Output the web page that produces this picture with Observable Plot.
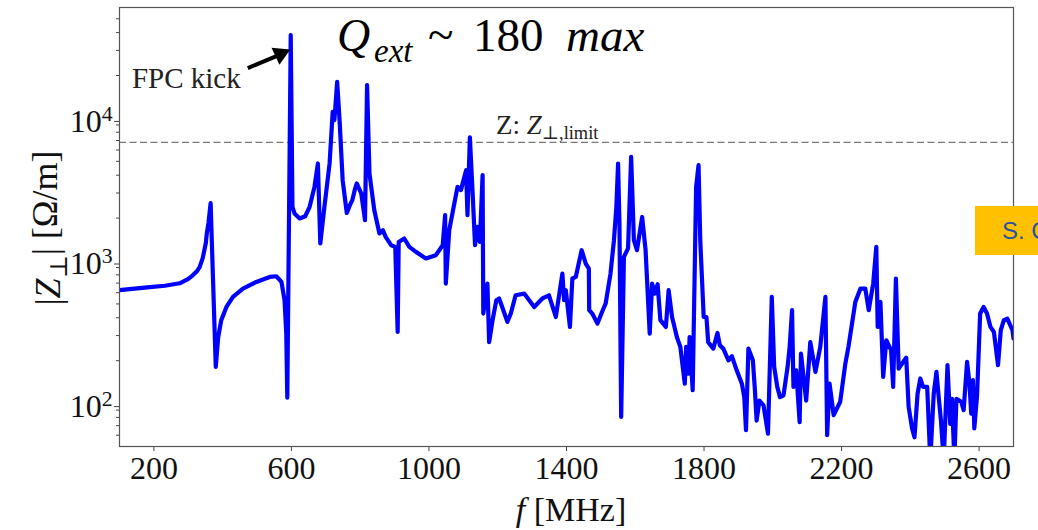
<!DOCTYPE html>
<html>
<head>
<meta charset="utf-8">
<script src="https://cdn.jsdelivr.net/npm/d3@7"></script>
<script src="https://cdn.jsdelivr.net/npm/@observablehq/plot@0.6"></script>
<style>
  body { margin: 0; background: #fff; }
  #wrap { position: relative; width: 1038px; height: 530px; overflow: hidden; background: #fff; }
  #badge { position: absolute; left: 975px; top: 206px; width: 63px; height: 49px; background: #FFC000;
           font-family: "Liberation Sans", Arial, sans-serif; font-size: 24px; color: #2a52a0;
           line-height: 49px; padding-left: 27px; box-sizing: border-box; white-space: nowrap; overflow: hidden; }
</style>
</head>
<body>
<div id="wrap"><div id="badge">S. C</div></div>
<script>
// Frequency (MHz)
const freq = [100,188,232,275,299,313,325,333,342,351,354,359,365,380,387,396,411,430,459,498,537,556,571,580,585,588,598,603,609,624,640,653,667,677,684,696,711,720,725,733,740,749,761,770,777,784,790,803,814,820,827,841,856,866,874,890,902,909,912,928,943,962,991,1020,1040,1047,1049,1059,1083,1093,1108,1112,1119,1127,1134,1141,1148,1156,1158,1170,1175,1185,1196,1204,1213,1228,1238,1252,1277,1306,1330,1349,1369,1388,1393,1398,1410,1417,1427,1444,1456,1465,1466,1475,1490,1503,1514,1528,1538,1545,1550,1554,1559,1567,1579,1588,1596,1605,1620,1630,1642,1649,1657,1665,1673,1689,1697,1707,1721,1731,1744,1748,1755,1758,1767,1777,1784,1789,1799,1807,1812,1827,1839,1846,1856,1871,1881,1895,1910,1917,1922,1929,1942,1948,1953,1961,1973,1986,1997,2004,2013,2021,2031,2043,2049,2056,2060,2068,2078,2082,2097,2109,2124,2138,2153,2158,2165,2177,2196,2211,2220,2240,2255,2269,2279,2292,2301,2305,2313,2321,2330,2344,2350,2358,2366,2376,2388,2395,2405,2412,2421,2429,2437,2449,2458,2468,2476,2482,2489,2497,2508,2516,2521,2528,2534,2548,2555,2565,2572,2577,2582,2586,2594,2603,2613,2623,2633,2643,2655,2663,2672,2682,2697,2700];
// |Z_perp| (Ohm/m)
const zPerp = [624,655,671,698,745,794,847,906,1047,1334,1567,1871,2546,181,293,385,476,560,641,713,773,782,713,531,310,110,38400,2399,2155,1987,2061,2399,3311,4831,1327,2399,4831,11120,9730,18070,9730,3690,2176,2466,2672,3141,3499,2978,1934,17140,4111,2270,1560,1644,1476,1291,1256,318,1361,1438,1256,1159,1042,1099,1291,2096,695,1644,3311,3141,4335,2096,7362,2978,1291,1734,1361,4000,428,695,270,385,531,546,476,374,428,575,591,476,546,575,405,817,531,624,345,754,773,1191,960,885,452,428,364,437,504,817,1400,2399,4831,1834,80.5,1069,1225,5380,1400,1191,2037,1191,310,695,591,687,385,345,624,405,293,250,138,250,162,293,124,3311,4699,1400,405,405,270,243,313,256,243,201,215,171,138,111,65,243,201,124,76,105,97,61.5,560,181,131,111,114,181,250,452,131,171,74,224,105,270,167,250,560,60,138,83,103,191,250,516,641,641,452,695,1256,345,516,154,278,237,131,754,176,191,210,95,67,58,117,150,131,131,40,117,167,114,76,40,186,72,108,40,108,103,90,196,138,85,146,67,114,428,476,428,345,318,186,327,385,394,327,286];

const xTicks = [200, 600, 1000, 1400, 1800, 2200, 2600];
const yTicks = [100, 1000, 10000];
const yMinorTicks = [60,70,80,90,200,300,400,500,600,700,800,900,2000,3000,4000,5000,6000,7000,8000,9000,20000,30000,40000,50000];
const zLimit = [6800];
const limitLabel = [{f: 1195, z: 8975, text: "Z: Z⊥,limit"}];
const kickLabel = [{f: 136, z: 18880, text: "FPC kick"}];
const kickArrow = [{f1: 473, z1: 22540, f2: 560, z2: 27600}];
const kickHead = [{f: 568, z: 28300}];

const data = freq.map((f, i) => ({f, z: zPerp[i]}));

const chart = Plot.plot({
  width: 1038,
  height: 530,
  marginLeft: 119,
  marginRight: 25,
  marginTop: 7,
  marginBottom: 84,
  style: {fontFamily: "'Liberation Serif', 'DejaVu Serif', serif", fontSize: "32px", color: "#111", background: "white"},
  x: {domain: [100, 2700]},
  y: {type: "log", domain: [50, 60000]},
  marks: [
    Plot.ruleY(zLimit, {stroke: "#7a7a7a", strokeWidth: 1.3, strokeDasharray: "7,3.5"}),
    Plot.line(data, {x: "f", y: "z", stroke: "#0000ff", strokeWidth: 4.2, strokeLinejoin: "round", clip: true}),
    Plot.axisX(xTicks, {tickSize: 5, tickPadding: 5, label: null, tickFormat: d => String(d), stroke: "#444"}),
    Plot.axisY(yTicks, {tickSize: 5, tickPadding: 2, label: null, tickFormat: d => "10^" + Math.round(Math.log10(d)), dy: 3, stroke: "#444"}),
    Plot.axisY(yMinorTicks, {tickSize: 3, label: null, tickFormat: () => "", stroke: "#444"}),
    Plot.frame({stroke: "#555", strokeWidth: 1.2}),
    Plot.text(limitLabel, {x: "f", y: "z", text: "text", textAnchor: "start", fontSize: 27, fill: "#222"}),
    Plot.text(kickLabel, {x: "f", y: "z", text: "text", textAnchor: "start", fontSize: 29, fill: "#222"}),
    Plot.link(kickArrow, {x1: "f1", y1: "z1", x2: "f2", y2: "z2", stroke: "black", strokeWidth: 4}),
    Plot.dot(kickHead, {x: "f", y: "z", symbol: "triangle", r: 7, fill: "black", stroke: "none", rotate: 65})
  ]
});

document.getElementById("wrap").prepend(chart);

const svg = d3.select(chart.tagName.toLowerCase() === "svg" ? chart : chart.querySelector("svg"));

svg.selectAll("text").each(function() {
  const t = this.textContent;
  const m = t.match(/^10\^(\d)$/);
  const s = d3.select(this);
  if (m) {
    s.text(null);
    s.append("tspan").text("10");
    s.append("tspan").attr("dy", "-0.5em").attr("font-size", "0.68em").text(m[1]);
  } else if (t === "Z: Z⊥,limit") {
    s.text(null);
    s.append("tspan").text("Z: ");
    s.append("tspan").attr("font-style", "italic").text("Z");
    s.append("tspan").attr("dy", "0.3em").attr("font-size", "0.68em").text("⊥,limit");
  }
});

const serif = "'Liberation Serif', 'DejaVu Serif', serif";

// Title
const title = svg.append("g").attr("font-family", serif).attr("fill", "#000").attr("text-anchor", "start");
title.append("text").attr("x", 337).attr("y", 51).attr("font-size", 46).attr("font-style", "italic").text("Q");
title.append("text").attr("x", 374).attr("y", 62).attr("font-size", 33).attr("font-style", "italic").text("ext");
title.append("text").attr("x", 428).attr("y", 50).attr("font-size", 47).text("~");
title.append("text").attr("x", 473).attr("y", 51).attr("font-size", 47).text("180");
title.append("text").attr("x", 566).attr("y", 51).attr("font-size", 47).attr("font-style", "italic").text("max");

// Y-axis label
const yl = svg.append("text").attr("font-family", serif).attr("font-size", 36).attr("fill", "#111")
  .attr("text-anchor", "middle").attr("transform", "translate(60,228) rotate(-90)");
yl.append("tspan").text("|");
yl.append("tspan").attr("font-style", "italic").text("Z");
yl.append("tspan").attr("dy", "0.3em").attr("font-size", "0.68em").text("⊥");
yl.append("tspan").attr("dy", "-0.3em").text("| [Ω/m]");

// X-axis label
const xl = svg.append("text").attr("font-family", serif).attr("font-size", 34).attr("fill", "#111")
  .attr("text-anchor", "middle").attr("x", 571).attr("y", 521);
xl.append("tspan").attr("font-style", "italic").text("f");
xl.append("tspan").text(" [MHz]");
</script>
</body>
</html>
